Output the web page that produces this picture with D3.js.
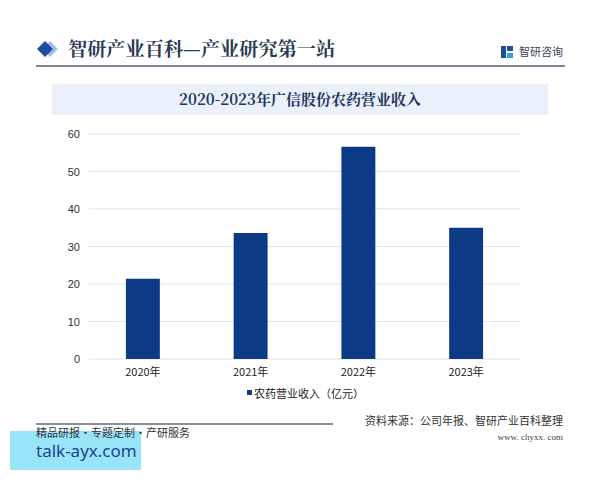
<!DOCTYPE html>
<html><head><meta charset="utf-8">
<script src="https://cdn.jsdelivr.net/npm/d3@7"></script>
<style>body{margin:0;background:#fff;}svg{display:block;}</style>
</head><body>
<svg id="c" width="600" height="480"></svg>
<script>
const categories = ["2020年","2021年","2022年","2023年"];
const values = [21.4, 33.6, 56.6, 35.0];
const yTicks = [0,10,20,30,40,50,60];
const seriesName = "农药营业收入（亿元）";
const chartTitle = "2020-2023年广信股份农药营业收入";
const headerTitle = "智研产业百科—产业研究第一站";
const sourceText = "资料来源：公司年报、智研产业百科整理";

const svg = d3.select("#c");
const sans = "'Noto Sans CJK SC','Microsoft YaHei',sans-serif";
const serif = "'Noto Serif CJK SC','Noto Sans CJK SC',serif";

// header
svg.append("path").attr("d","M50,41 L58,49 L50,57 L42,49 Z").attr("fill","#a8bde0");
svg.append("path").attr("d","M45,41 L53,49 L45,57 L37,49 Z").attr("fill","#1f4e9c");
svg.append("text").attr("x",68).attr("y",56).attr("font-family",serif).attr("font-size",19.2).attr("font-weight","bold").attr("fill","#2b3a55").text(headerTitle);
svg.append("line").attr("x1",36).attr("x2",565).attr("y1",66).attr("y2",66).attr("stroke","#4e5b6e").attr("stroke-width",1.6);
// logo
const lg = svg.append("g").attr("transform","translate(501,46)");
lg.append("rect").attr("x",0).attr("y",0).attr("width",5).attr("height",12).attr("fill","#1f4e9c");
lg.append("rect").attr("x",6).attr("y",0).attr("width",6).attr("height",5).attr("fill","#1f4e9c");
lg.append("rect").attr("x",6).attr("y",7).attr("width",6).attr("height",5).attr("fill","#2fa6e0");
svg.append("text").attr("x",563).attr("y",56).attr("text-anchor","end").attr("font-family",sans).attr("font-size",11).attr("fill","#3a4660").text("智研咨询");

// title box
svg.append("rect").attr("x",52).attr("y",84).attr("width",496).attr("height",31).attr("fill","#eaf1fb");
svg.append("text").attr("x",300).attr("y",105).attr("text-anchor","middle").attr("font-family",serif).attr("font-size",15).attr("font-weight","bold").attr("fill","#1f3560").text(chartTitle);

// chart
const x = d3.scaleBand().domain(categories).range([89,520]).paddingInner(0.685).paddingOuter(0.3425);
const y = d3.scaleLinear().domain([0,60]).range([359,134]);

const grid = svg.append("g");
grid.selectAll("line").data(yTicks).join("line")
  .attr("x1",89).attr("x2",520).attr("y1",d=>y(d)).attr("y2",d=>y(d))
  .attr("stroke","#e3e3e3").attr("stroke-width",1.2);

const yAxis = svg.append("g").attr("transform","translate(89,0)")
  .call(d3.axisLeft(y).tickValues(yTicks).tickSize(0).tickPadding(9));
yAxis.select(".domain").remove();
yAxis.selectAll("text").attr("font-family","'Liberation Sans',Arial,sans-serif").attr("font-size",11).attr("fill","#333");

svg.append("g").selectAll("rect").data(values).join("rect")
  .attr("x",(d,i)=>x(categories[i])).attr("width",x.bandwidth())
  .attr("y",d=>y(d)).attr("height",d=>y(0)-y(d))
  .attr("fill","#0d3a85");

const xAxis = svg.append("g").attr("transform","translate(0,359)")
  .call(d3.axisBottom(x).tickSize(0).tickPadding(9));
xAxis.select(".domain").remove();
xAxis.selectAll("text").attr("font-family",sans).attr("font-size",11).attr("fill","#222");

// legend
svg.append("rect").attr("x",247).attr("y",390).attr("width",5).attr("height",5).attr("fill","#0d3a85");
svg.append("text").attr("x",254).attr("y",398).attr("font-family",sans).attr("font-size",11).attr("fill","#222").text(seriesName);

// footer
svg.append("line").attr("x1",36).attr("x2",333).attr("y1",424).attr("y2",424).attr("stroke","#8a8f98").attr("stroke-width",2);
svg.append("text").attr("x",563).attr("y",425).attr("text-anchor","end").attr("font-family",sans).attr("font-size",11).attr("fill","#333").text(sourceText);
svg.append("text").attr("x",563).attr("y",440).attr("text-anchor","end").attr("font-family","'Liberation Serif',serif").attr("font-size",9).attr("fill","#444").text("www. chyxx. com");
svg.append("rect").attr("x",10).attr("y",431).attr("width",131).attr("height",39).attr("fill","#8fe3f8").attr("opacity",0.92);
svg.append("text").attr("x",36).attr("y",437).attr("font-family",sans).attr("font-size",11).attr("fill","#333").text("精品研报・专题定制・产研服务");
svg.append("text").attr("x",36).attr("y",457).attr("font-family","'Noto Sans',sans-serif").attr("font-size",17).attr("fill","#1d4290").text("talk-ayx.com");
</script>
</body></html>
